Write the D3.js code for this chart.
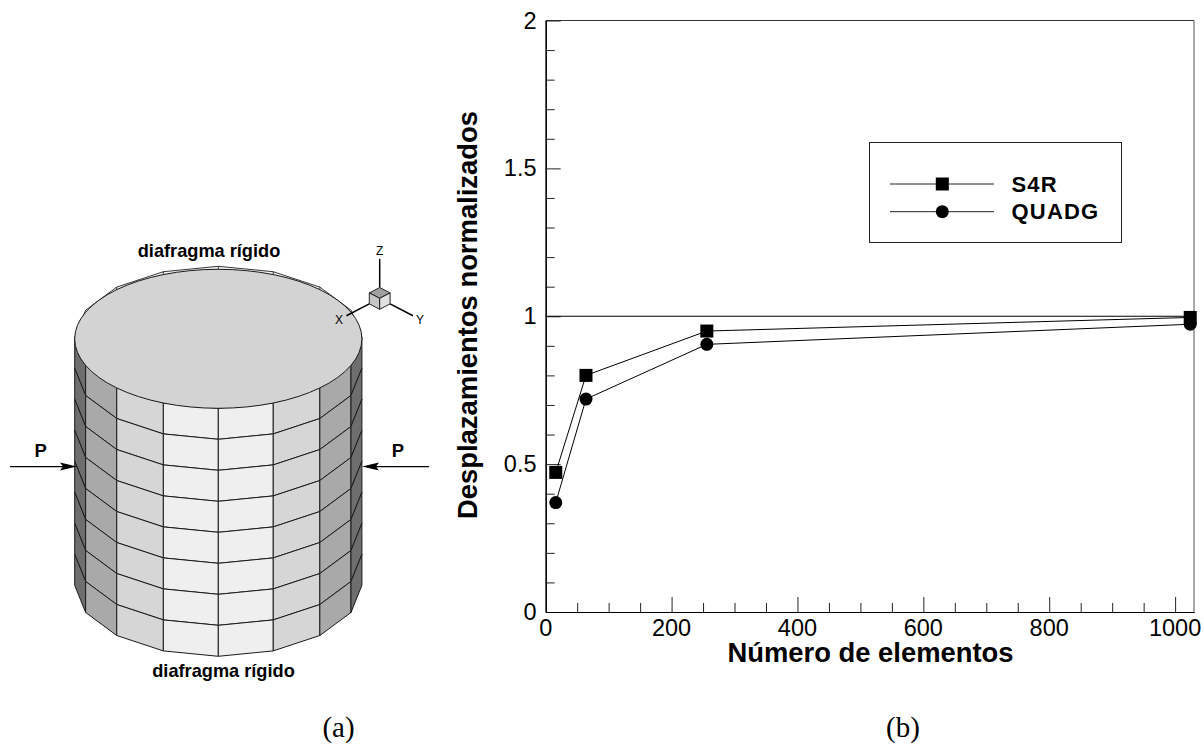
<!DOCTYPE html>
<html>
<head>
<meta charset="utf-8">
<script src="https://cdn.jsdelivr.net/npm/d3@7"></script>
<style>
  html, body { margin: 0; padding: 0; background: #fff; }
  svg { display: block; }
  text { font-family: "Liberation Sans", Arial, sans-serif; fill: #000; }
</style>
</head>
<body>
<svg id="chart" width="1204" height="744"></svg>
<script>
// chart values (panel b)
const elements = [16, 64, 256, 1024];
const s4r = [0.472, 0.80, 0.95, 0.996];
const quadg = [0.37, 0.72, 0.905, 0.973];
const reference = [1, 1];
const xMajor = [0, 200, 400, 600, 800, 1000];
const xMinor = [50, 100, 150, 250, 300, 350, 450, 500, 550, 650, 700, 750, 850, 900, 950];
const yMajor = [0, 0.5, 1, 1.5, 2];
const yMinor = [0.1, 0.2, 0.3, 0.4, 0.6, 0.7, 0.8, 0.9, 1.1, 1.2, 1.3, 1.4, 1.6, 1.7, 1.8, 1.9];
const legendNames = ["S4R", "QUADG"];

// cylinder model (panel a): 16 sided, 8 rows, only the front half shows
const facetAngles = [-90, -67.5, -45, -22.5, 0, 22.5, 45, 67.5, 90];
const backAngles = [-157.5, -135, -112.5, -90, -67.5, -45, -22.5, 0, 22.5, 45, 67.5, 90, 112.5, 135, 157.5, 180];
const rimAngles = [180, 157.5, -157.5, 135, -135];
const facetShades = ["#6e6e6e", "#a9a9a9", "#d6d6d6", "#efefef", "#efefef", "#d6d6d6", "#a9a9a9", "#6e6e6e"];
const rows = d3.range(8);

const svg = d3.select("#chart");

// ---------- panel b ----------
const x = d3.scaleLinear().domain([0, 1030]).range([545.7, 1194]);
const y = d3.scaleLinear().domain([0, 2]).range([612, 20.5]);
const plot = svg.append("g");

plot.append("line").attr("x1", x(1030)).attr("x2", x(1030)).attr("y1", y(2)).attr("y2", y(0))
  .attr("stroke", "#555").attr("stroke-width", 1);
plot.append("line").attr("x1", x(0)).attr("x2", x(1030)).attr("y1", y(2)).attr("y2", y(2))
  .attr("stroke", "#333").attr("stroke-width", 1);

function styleAxis(g) {
  g.selectAll("path").attr("stroke", "#000").attr("stroke-width", 1.2);
  g.selectAll("line").attr("stroke", "#222").attr("stroke-width", 1);
}

plot.append("g").attr("transform", `translate(0,${y(0)})`)
  .call(d3.axisBottom(x).tickValues(xMinor).tickSize(-9).tickSizeOuter(0).tickFormat(""))
  .call(styleAxis);
plot.append("g").attr("transform", `translate(0,${y(0)})`)
  .call(d3.axisBottom(x).tickValues(xMajor.slice(1)).tickSize(-15).tickSizeOuter(0).tickFormat(""))
  .call(styleAxis);
plot.selectAll(".xlab").data(xMajor).enter().append("text")
  .attr("class", "xlab").attr("x", d => x(d)).attr("y", 636)
  .attr("text-anchor", "middle").attr("font-size", 23.5).text(d => d);

plot.append("g").attr("transform", `translate(${x(0)},0)`)
  .call(d3.axisLeft(y).tickValues(yMinor).tickSize(-9).tickSizeOuter(0).tickFormat(""))
  .call(styleAxis);
plot.append("g").attr("transform", `translate(${x(0)},0)`)
  .call(d3.axisLeft(y).tickValues(yMajor.slice(1)).tickSize(-15).tickSizeOuter(0).tickFormat(""))
  .call(styleAxis);
plot.selectAll(".ylab").data(yMajor).enter().append("text")
  .attr("class", "ylab").attr("x", 536.5).attr("y", d => y(d) + 8)
  .attr("text-anchor", "end").attr("font-size", 23.5).text(d => d);

// the line at 1
plot.append("line").attr("x1", x(0)).attr("x2", x(1030))
  .attr("y1", y(reference[0])).attr("y2", y(reference[1]))
  .attr("stroke", "#000").attr("stroke-width", 1);

const line = d3.line().x((d, i) => x(elements[i])).y(d => y(d));
[s4r, quadg].forEach(vals => {
  plot.append("path").attr("d", line(vals)).attr("fill", "none")
    .attr("stroke", "#000").attr("stroke-width", 1);
});
plot.selectAll(".sq").data(s4r).enter().append("rect").attr("class", "sq")
  .attr("x", (d, i) => x(elements[i]) - 6.5).attr("y", d => y(d) - 6.5)
  .attr("width", 13).attr("height", 13).attr("fill", "#000");
plot.selectAll(".ci").data(quadg).enter().append("circle").attr("class", "ci")
  .attr("cx", (d, i) => x(elements[i])).attr("cy", d => y(d))
  .attr("r", 6.5).attr("fill", "#000");

svg.append("text").attr("x", 870.5).attr("y", 662).attr("text-anchor", "middle")
  .attr("font-size", 27.4).attr("font-weight", "bold").text("Número de elementos");
svg.append("text").attr("transform", "translate(477,315) rotate(-90)").attr("text-anchor", "middle")
  .attr("font-size", 27.4).attr("font-weight", "bold").text("Desplazamientos normalizados");

// legend
const legend = svg.append("g");
legend.append("rect").attr("x", 869.5).attr("y", 142.5).attr("width", 252).attr("height", 100)
  .attr("fill", "#fff").attr("stroke", "#222").attr("stroke-width", 1);
const legendY = d3.scalePoint().domain(legendNames).range([184, 211.7]);
legendNames.forEach(name => {
  legend.append("line").attr("x1", 890).attr("x2", 994)
    .attr("y1", legendY(name)).attr("y2", legendY(name)).attr("stroke", "#222").attr("stroke-width", 1);
  if (name === "S4R") {
    legend.append("rect").attr("x", 942.3 - 6.5).attr("y", legendY(name) - 6.5)
      .attr("width", 13).attr("height", 13).attr("fill", "#000");
  } else {
    legend.append("circle").attr("cx", 942.3).attr("cy", legendY(name)).attr("r", 6.5).attr("fill", "#000");
  }
  legend.append("text").attr("x", 1011.5).attr("y", legendY(name) + 7.5)
    .attr("font-size", 22).attr("font-weight", "bold").attr("letter-spacing", 1.2).text(name);
});

// ---------- panel a ----------
const mx = d3.scaleLinear().domain([-1, 1]).range([74.7, 361.9]);
const my = d3.scaleLinear().domain([-1, 1]).range([-71, 71]);
const mz = d3.scaleLinear().domain([0, 8]).range([337.3, 585.3]);
const rad = a => a * Math.PI / 180;
// angle 0 faces the viewer
const px = a => mx(Math.sin(rad(a)));
const py = (a, level) => mz(level) + my(Math.cos(rad(a)));
const poly = d3.line().x(d => d[0]).y(d => d[1]);

const cyl = svg.append("g");
// back edge of the upper rim, mostly hidden by the lid
cyl.append("path")
  .attr("d", poly(backAngles.map(a => [px(a), py(a, 0)])) + "Z")
  .attr("fill", "#f0f0f0").attr("stroke", "#222").attr("stroke-width", 0.9);
rimAngles.forEach(a => {
  cyl.append("line").attr("x1", px(a)).attr("x2", px(a))
    .attr("y1", py(a, 0)).attr("y2", py(a, 0) + 6).attr("stroke", "#222").attr("stroke-width", 0.9);
});

rows.forEach(r => {
  facetShades.forEach((shade, i) => {
    const a0 = facetAngles[i], a1 = facetAngles[i + 1];
    const pts = [[px(a0), py(a0, r)], [px(a1), py(a1, r)], [px(a1), py(a1, r + 1)], [px(a0), py(a0, r + 1)]];
    cyl.append("path").attr("d", poly(pts) + "Z")
      .attr("fill", shade).attr("stroke", "#1a1a1a").attr("stroke-width", 1).attr("stroke-linejoin", "round");
  });
});
cyl.append("ellipse").attr("cx", mx(0)).attr("cy", 338.8).attr("rx", 143.6).attr("ry", 69.5)
  .attr("fill", "#d3d3d3").attr("stroke", "#1a1a1a").attr("stroke-width", 1);

// triad, isometric projection of a unit cube
const tx = (a, b) => 379.7 + (b - a) * 10.4;
const ty = (a, b, c) => 298.5 + (a + b) * 5.4 - c * 11;
const tp = d => [tx(d[0], d[1]), ty(d[0], d[1], d[2])];
const triadAxes = [[[1, 0, 0], [3.2, 0, 0]], [[0, 1, 0], [0, 3.2, 0]], [[0, 0, 1], [0, 0, 3.6]]];
const cubeFaces = [
  { pts: [[0, 0, 1], [1, 0, 1], [1, 1, 1], [0, 1, 1]], fill: "#a0a0a0" },
  { pts: [[1, 0, 1], [1, 1, 1], [1, 1, 0], [1, 0, 0]], fill: "#c6c6c6" },
  { pts: [[0, 1, 1], [1, 1, 1], [1, 1, 0], [0, 1, 0]], fill: "#e0e0e0" }
];
const triad = svg.append("g");
triadAxes.forEach(a => {
  triad.append("path").attr("d", poly(a.map(tp))).attr("stroke", "#000").attr("stroke-width", 1.5).attr("fill", "none");
});
cubeFaces.forEach(f => {
  triad.append("path").attr("d", poly(f.pts.map(tp)) + "Z").attr("fill", f.fill)
    .attr("stroke", "#111").attr("stroke-width", 0.9);
});
[["Z", 379.7, 255], ["X", 339, 324], ["Y", 420, 324]].forEach(t => {
  triad.append("text").attr("x", t[1]).attr("y", t[2]).attr("text-anchor", "middle")
    .attr("font-size", 12).attr("fill", "#222").text(t[0]);
});

// load arrows
function arrow(from, tip, yy) {
  const dir = tip > from ? 1 : -1;
  svg.append("line").attr("x1", from).attr("x2", tip - dir * 8).attr("y1", yy).attr("y2", yy)
    .attr("stroke", "#000").attr("stroke-width", 1.2);
  svg.append("path").attr("d", `M${tip},${yy}L${tip - dir * 17},${yy - 4}L${tip - dir * 14},${yy}L${tip - dir * 17},${yy + 4}Z`)
    .attr("fill", "#000");
}
arrow(10, 77, 466.6);
arrow(429, 362, 466.6);
[[40.7, 456.7], [398, 456.7]].forEach(p => {
  svg.append("text").attr("x", p[0]).attr("y", p[1]).attr("text-anchor", "middle")
    .attr("font-size", 18.5).attr("font-weight", "bold").text("P");
});

svg.append("text").attr("x", 209).attr("y", 256.7).attr("text-anchor", "middle")
  .attr("font-size", 18.2).attr("font-weight", "bold").text("diafragma rígido");
svg.append("text").attr("x", 223.5).attr("y", 677.3).attr("text-anchor", "middle")
  .attr("font-size", 18.2).attr("font-weight", "bold").text("diafragma rígido");

[["(a)", 338.5], ["(b)", 903]].forEach(t => {
  svg.append("text").attr("x", t[1]).attr("y", 736.7).attr("text-anchor", "middle")
    .style("font-family", '"Liberation Serif", serif').attr("font-size", 29).text(t[0]);
});
</script>
</body>
</html>
